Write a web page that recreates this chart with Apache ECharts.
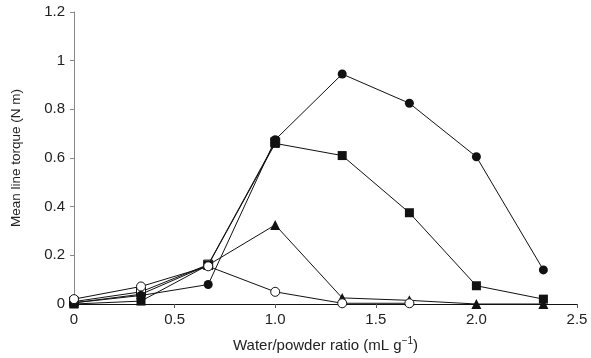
<!DOCTYPE html>
<html>
<head>
<meta charset="utf-8">
<script src="https://cdn.jsdelivr.net/npm/echarts@6/dist/echarts.min.js"></script>
<style>
  html, body { margin: 0; padding: 0; background: #fff; }
  #chart { width: 591px; height: 358px; }
</style>
</head>
<body>
<div id="chart"></div>
<script>
// water/powder ratios (mL/g)
var ratios = [0, 0.333, 0.667, 1.0, 1.333, 1.667, 2.0, 2.333];
var xTickLabels = ['0', '0.5', '1.0', '1.5', '2.0', '2.5'];
var yTickLabels = ['0', '0.2', '0.4', '0.6', '0.8', '1', '1.2'];

// mean line torque (N m) per series
var filledCircle = [0.005, 0.035, 0.08, 0.675, 0.945, 0.825, 0.605, 0.14];
var filledSquare = [0.0, 0.012, 0.16, 0.66, 0.61, 0.375, 0.075, 0.02];
var filledTriangle = [0.005, 0.04, 0.16, 0.325, 0.025, 0.015, 0.0, 0.0];
var openCircle = [0.02, 0.072, 0.155, 0.05, 0.003, 0.003];
var openSquare = [0.01, 0.05, 0.162, 0.665];

var font = 'Liberation Sans, Arial, sans-serif';

function pairs(vals) {
  var out = [];
  for (var i = 0; i < vals.length; i++) out.push([ratios[i], vals[i]]);
  return out;
}

function mkSeries(name, vals, symbol, size, filled, z) {
  return {
    name: name,
    type: 'line',
    data: pairs(vals),
    symbol: symbol,
    symbolSize: size,
    showAllSymbol: true,
    z: z,
    lineStyle: { color: '#111', width: 1 },
    itemStyle: {
      color: filled ? '#111' : '#fff',
      borderColor: '#111',
      borderWidth: filled ? 0 : 1
    }
  };
}

var myChart = echarts.init(document.getElementById('chart'));

var option = {
  animation: false,
  backgroundColor: '#fff',
  textStyle: { fontFamily: font },
  grid: { left: 74, right: 14, top: 12, bottom: 54 },
  xAxis: {
    type: 'value',
    min: 0,
    max: 2.5,
    interval: 0.5,
    name: '{n|Water/powder ratio (mL g}{s|−1}{n|)}',
    nameLocation: 'middle',
    nameGap: 32,
    nameTextStyle: {
      rich: {
        n: { fontSize: 15, color: '#222', fontFamily: font },
        s: { fontSize: 10, color: '#222', verticalAlign: 'top', padding: [0, 0, 9, 0], fontFamily: font }
      }
    },
    axisLine: { lineStyle: { color: '#111', width: 1 } },
    axisTick: { show: true, length: 4, lineStyle: { color: '#555' } },
    splitLine: { show: false },
    axisLabel: {
      fontSize: 15,
      color: '#222',
      margin: 8,
      formatter: function (v) { return xTickLabels[Math.round(v / 0.5)]; }
    }
  },
  yAxis: {
    type: 'value',
    min: 0,
    max: 1.2,
    interval: 0.2,
    name: 'Mean line torque (N m)',
    nameLocation: 'middle',
    nameGap: 51,
    nameTextStyle: { fontSize: 13.5, color: '#222' },
    axisLine: { show: true, lineStyle: { color: '#888', width: 1 } },
    axisTick: { show: true, length: 4, lineStyle: { color: '#888' } },
    splitLine: { show: false },
    axisLabel: {
      fontSize: 15,
      color: '#222',
      margin: 9,
      formatter: function (v) { return yTickLabels[Math.round(v / 0.2)]; }
    }
  },
  series: [
    mkSeries('openSquare', openSquare, 'rect', 9, false, 2),
    mkSeries('filledSquare', filledSquare, 'rect', 9, true, 3),
    mkSeries('filledTriangle', filledTriangle, 'triangle', 10, true, 4),
    mkSeries('filledCircle', filledCircle, 'circle', 9, true, 5),
    mkSeries('openCircle', openCircle, 'circle', 9, false, 6)
  ]
};

myChart.setOption(option);
myChart.resize();
</script>
</body>
</html>
